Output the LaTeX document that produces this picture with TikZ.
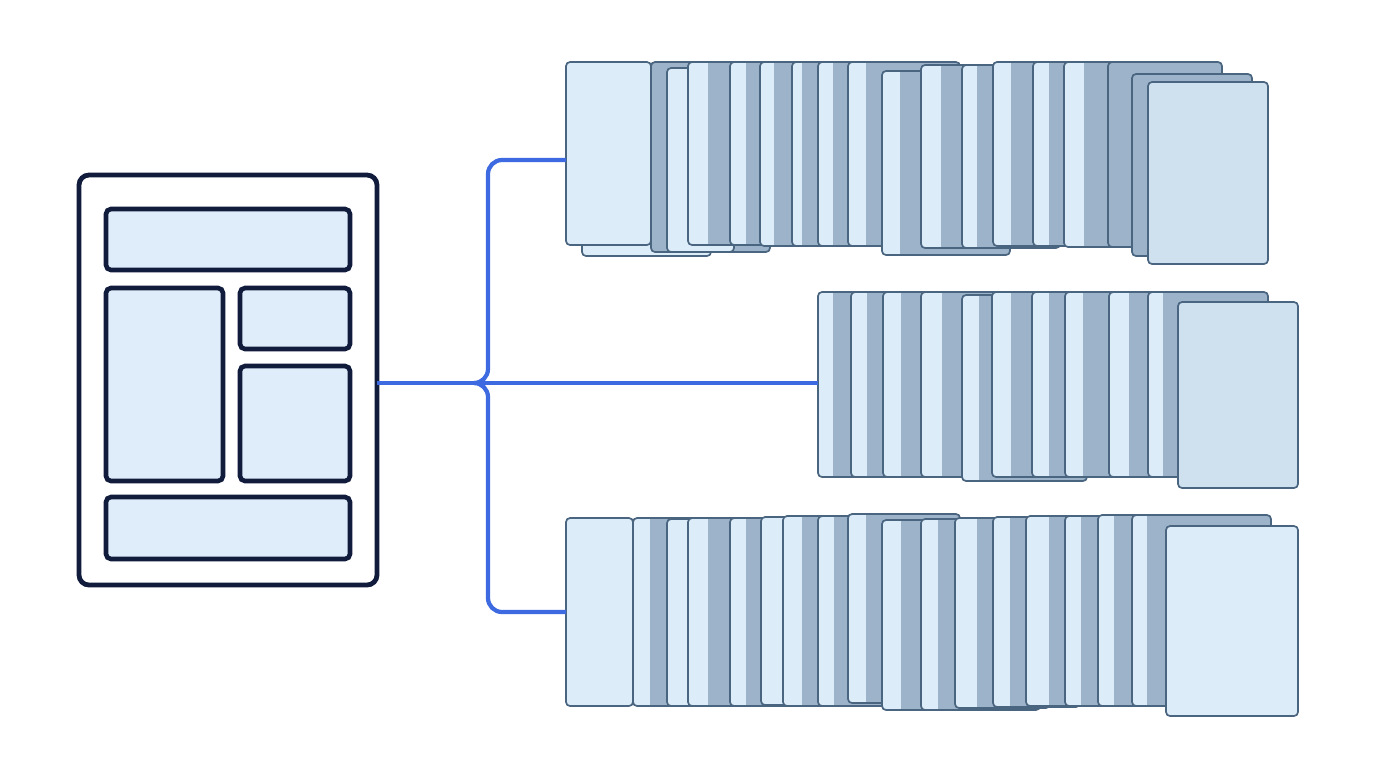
\documentclass[tikz,border=0pt]{standalone}
\usetikzlibrary{calc}
\definecolor{navy}{HTML}{111C3D}
\definecolor{linkblue}{HTML}{3D6AE0}
\definecolor{panelfill}{HTML}{DFEDFB}
\definecolor{cardlight}{HTML}{DDECF9}
\definecolor{cardmid}{HTML}{CFE0EF}
\definecolor{carddark}{HTML}{9DB3C9}
\definecolor{cardedge}{HTML}{4A6580}
\tikzset{
  docframe/.style={draw=navy, line width=2.4pt, rounded corners=5pt, fill=white},
  panel/.style={draw=navy, line width=2.3pt, rounded corners=2.5pt, fill=panelfill},
  link/.style={draw=linkblue, line width=2.1pt, rounded corners=7pt},
  cardline/.style={draw=cardedge, line width=0.85pt, rounded corners=2pt},
}
\newcommand\stackcard[6]{%
  \fill[fill=#6, rounded corners=2pt] (#1,#2) rectangle (#5,#3);
  \fill[fill=carddark] (#4,#2+1) rectangle (#5-1,#3-1);
  \draw[cardline] (#1,#2) rectangle (#5,#3);
}
\begin{document}
\begin{tikzpicture}[x=0.5pt,y=-0.5pt]
\useasboundingbox (0,0) rectangle (1376,768);
\fill[white] (0,0) rectangle (1376,768);

% document layout icon
\draw[docframe] (79,175) rectangle (377,585);
\draw[panel] (106,209) rectangle (350,270);
\draw[panel] (106,288) rectangle (223,481);
\draw[panel] (240,288) rectangle (350,349);
\draw[panel] (240,366) rectangle (350,481);
\draw[panel] (106,497) rectangle (350,559);
\coordinate (docR) at (377,383);

% top stack
\foreach \cx/\ct/\cb/\cd/\cr/\cc in {
  582/70/256/711/711/cardlight, 566/62/245/651/651/cardlight, 651/62/252/651/770/cardlight,
  667/68/252/734/734/cardlight, 688/62/245/708/800/cardlight, 730/62/245/746/830/cardlight,
  760/62/246/774/860/cardlight, 792/62/246/802/890/cardlight, 818/62/246/833/920/cardlight,
  848/62/246/866/960/cardlight, 882/71/255/900/1010/cardlight, 921/65/248/941/1030/cardlight,
  962/65/248/977/1060/cardlight, 993/62/246/1011/1090/cardlight, 1033/62/246/1049/1110/cardlight,
  1064/62/247/1084/1120/cardlight, 1108/62/247/1108/1222/cardlight, 1132/74/256/1132/1252/cardlight,
  1148/82/264/1268/1268/cardmid}
  {\stackcard{\cx}{\ct}{\cb}{\cd}{\cr}{\cc}}
\coordinate (topS) at (566,160);

% middle stack
\foreach \cx/\ct/\cb/\cd/\cr/\cc in {
  818/292/477/833/930/cardlight, 851/292/477/867/950/cardlight, 883/292/477/901/990/cardlight,
  921/292/477/942/1010/cardlight, 962/295/481/979/1087/cardlight, 992/292/477/1011/1100/cardlight,
  1032/292/477/1049/1120/cardlight, 1065/292/477/1083/1140/cardlight, 1109/292/477/1129/1160/cardlight,
  1148/292/477/1163/1268/cardlight, 1178/302/488/1298/1298/cardmid}
  {\stackcard{\cx}{\ct}{\cb}{\cd}{\cr}{\cc}}
\coordinate (midS) at (818,383);

% bottom stack
\foreach \cx/\ct/\cb/\cd/\cr/\cc in {
  566/518/706/633/633/cardlight, 633/518/706/650/730/cardlight, 667/519/706/740/740/cardlight,
  688/518/706/708/790/cardlight, 730/518/706/746/830/cardlight, 761/517/705/783/850/cardlight,
  783/516/706/802/870/cardlight, 818/516/706/834/900/cardlight, 848/514/703/866/960/cardlight,
  882/520/710/901/1000/cardlight, 921/519/710/938/1040/cardlight, 955/518/708/977/1050/cardlight,
  993/517/707/1010/1080/cardlight, 1026/516/706/1049/1110/cardlight, 1065/516/706/1081/1140/cardlight,
  1098/515/706/1114/1160/cardlight, 1132/515/706/1147/1271/cardlight, 1166/526/716/1298/1298/cardlight}
  {\stackcard{\cx}{\ct}{\cb}{\cd}{\cr}{\cc}}
\coordinate (botS) at (566,612);

% connectors
\draw[link, rounded corners=0pt] (docR) -- (midS);
\draw[link] (topS) -- (488,160) -- (488,383) -- (474,383);
\draw[link] (botS) -- (488,612) -- (488,383) -- (474,383);
\end{tikzpicture}
\end{document}
